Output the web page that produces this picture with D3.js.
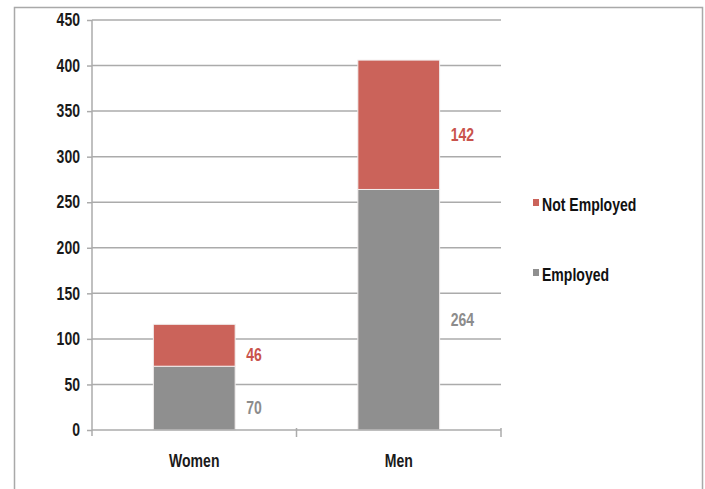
<!DOCTYPE html>
<html>
<head>
<meta charset="utf-8">
<script src="https://cdn.jsdelivr.net/npm/d3@7"></script>
<style>
  html, body { margin: 0; padding: 0; background: #fff; }
  svg { display: block; }
  text { font-family: "Liberation Sans Narrow", "Arial Narrow", "Liberation Sans", Arial, sans-serif; font-weight: bold; }
</style>
</head>
<body>
<svg id="chart" width="705" height="489"></svg>
<script>
const categories = ["Women", "Men"];
const seriesNames = ["Employed", "Not Employed"];
const employed = [70, 264];
const notEmployed = [46, 142];
const yTicks = [0, 50, 100, 150, 200, 250, 300, 350, 400, 450];

const colors = { "Employed": "#8f8f8f", "Not Employed": "#cb635a" };
const labelColors = { "Employed": "#8c8c8c", "Not Employed": "#c9534c" };

const svg = d3.select("#chart");
const W = 705, H = 489;
const margin = { left: 92, right: 204, top: 20, bottom: 59 };
const innerW = W - margin.left - margin.right;
const innerH = H - margin.top - margin.bottom;
const fs = "18px";

// outer frame
svg.append("rect")
  .attr("x", 14.5).attr("y", 7.5)
  .attr("width", 688).attr("height", 500)
  .attr("fill", "none").attr("stroke", "#a9a9a9").attr("stroke-width", 1.5);

const g = svg.append("g").attr("transform", `translate(${margin.left},${margin.top})`);

const x = d3.scaleBand().domain(categories).range([0, innerW]).paddingInner(0.6).paddingOuter(0.3);
const y = d3.scaleLinear().domain([0, 450]).range([innerH, 0]);

// gridlines
g.append("g").selectAll("line").data(yTicks.filter(t => t > 0)).join("line")
  .attr("x1", 0).attr("x2", innerW)
  .attr("y1", d => y(d)).attr("y2", d => y(d))
  .attr("stroke", "#ababab").attr("stroke-width", 1.5);

// y axis
const yAxis = g.append("g")
  .call(d3.axisLeft(y).tickValues(yTicks).tickSize(5).tickPadding(7).tickFormat(d3.format("d")));
yAxis.select(".domain").remove();
yAxis.selectAll(".tick line").attr("stroke", "#ababab").attr("stroke-width", 1.5);
yAxis.selectAll(".tick text").attr("fill", "#1a1a1a").style("font-size", fs);
g.append("line").attr("x1", 0).attr("x2", 0).attr("y1", y(450)).attr("y2", innerH + 6)
  .attr("stroke", "#ababab").attr("stroke-width", 1.5);

// stacked data
const table = categories.map((c, i) => ({ category: c, "Employed": employed[i], "Not Employed": notEmployed[i] }));
const stack = d3.stack().keys(seriesNames)(table);

const layers = g.append("g").selectAll("g").data(stack).join("g")
  .attr("fill", d => colors[d.key]);
layers.selectAll("rect").data(d => d).join("rect")
  .attr("x", d => x(d.data.category))
  .attr("y", d => y(d[1]))
  .attr("width", x.bandwidth())
  .attr("height", d => y(d[0]) - y(d[1]))
  .attr("stroke", "#f2eeee").attr("stroke-width", 1);

// x axis
g.append("line").attr("x1", 0).attr("x2", innerW).attr("y1", innerH).attr("y2", innerH)
  .attr("stroke", "#ababab").attr("stroke-width", 1.5);
const boundaries = [0, innerW / 2, innerW];
g.append("g").selectAll("line").data(boundaries.slice(1)).join("line")
  .attr("x1", d => d).attr("x2", d => d)
  .attr("y1", innerH - 2).attr("y2", innerH + 7)
  .attr("stroke", "#ababab").attr("stroke-width", 1.5);
g.append("g").selectAll("text").data(categories).join("text")
  .attr("x", d => x(d) + x.bandwidth() / 2)
  .attr("y", innerH + 37)
  .attr("text-anchor", "middle")
  .attr("fill", "#1a1a1a")
  .style("font-size", fs)
  .text(d => d);

// data labels
stack.forEach(layer => {
  g.append("g").selectAll("text").data(layer).join("text")
    .attr("x", d => x(d.data.category) + x.bandwidth() + 11)
    .attr("y", d => (y(d[0]) + y(d[1])) / 2 + 16)
    .attr("fill", labelColors[layer.key])
    .style("font-size", fs)
    .text(d => d[1] - d[0]);
});

// legend
const legend = svg.append("g").attr("transform", "translate(533,0)");
const legendItems = seriesNames.slice().reverse();
const legendY = d3.scalePoint().domain(legendItems).range([205, 275]);
legend.selectAll("rect").data(legendItems).join("rect")
  .attr("x", 0).attr("y", d => legendY(d) - 6)
  .attr("width", 6).attr("height", 7)
  .attr("fill", d => colors[d]);
legend.selectAll("text").data(legendItems).join("text")
  .attr("x", 9).attr("y", d => legendY(d) + 6)
  .attr("fill", "#111")
  .style("font-size", fs)
  .text(d => d);

// condense text (narrow font emulation when a narrow face is not installed)
svg.selectAll("text").each(function () {
  const len = this.getComputedTextLength();
  if (len > 0) {
    d3.select(this).attr("textLength", (len * 0.78).toFixed(1)).attr("lengthAdjust", "spacingAndGlyphs");
  }
});
</script>
</body>
</html>
